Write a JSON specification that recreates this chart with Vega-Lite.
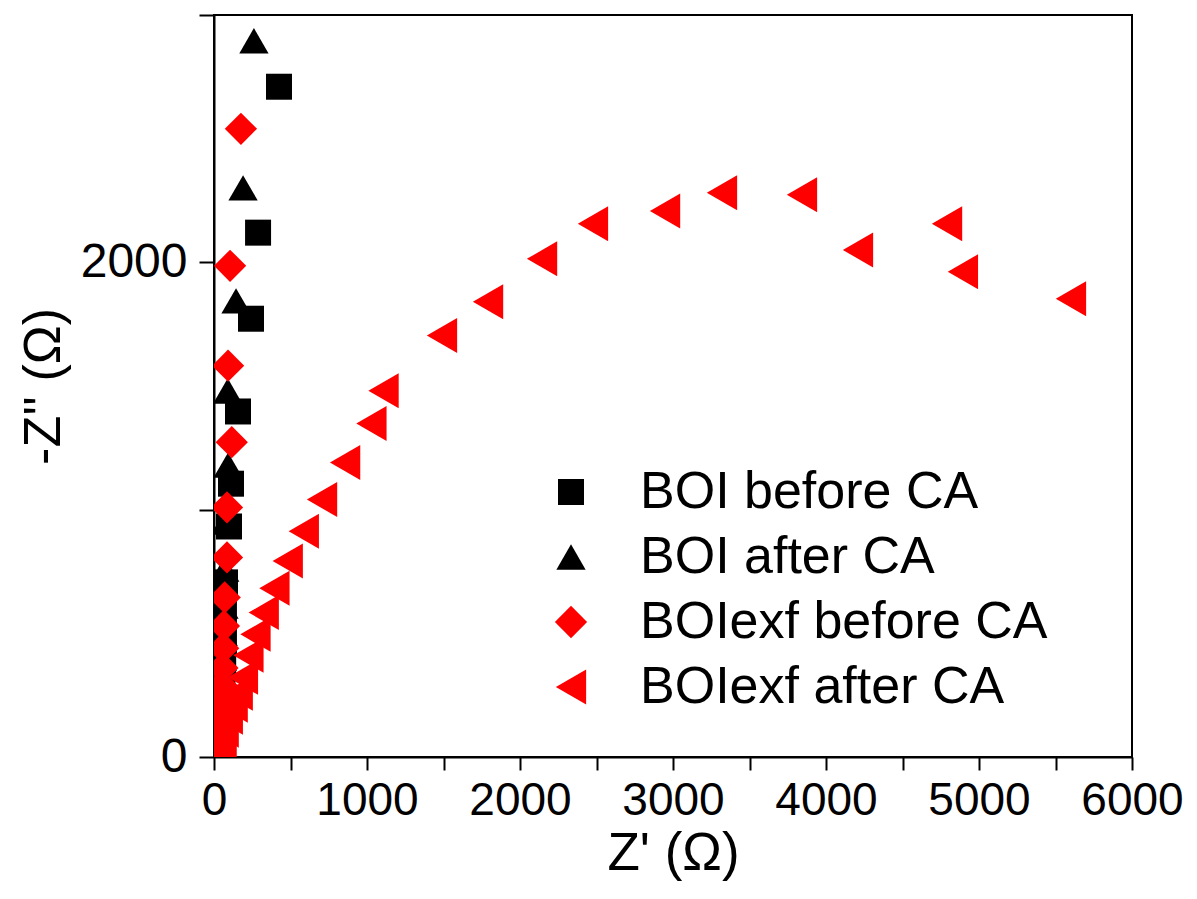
{
  "$schema": "https://vega.github.io/schema/vega-lite/v6.json",
  "autosize": {"type": "none"},
  "width": 918,
  "height": 742,
  "padding": {"left": 214, "top": 15, "right": 65, "bottom": 142},
  "background": "white",
  "config": {
    "view": {"stroke": "#000000", "strokeWidth": 2},
    "font": "Liberation Sans",
    "axis": {"grid": false, "domainColor": "#000000", "domainWidth": 2, "tickColor": "#000000", "tickWidth": 2, "labelColor": "#000000", "titleColor": "#000000", "labelFont": "Liberation Sans", "titleFont": "Liberation Sans", "titleFontWeight": "normal", "labelOverlap": false, "labelFlush": false}
  },
  "data": {
    "values": [
      {"series": "BOI before CA", "zr": 425, "zi": 2710},
      {"series": "BOI before CA", "zr": 288, "zi": 2120},
      {"series": "BOI before CA", "zr": 242, "zi": 1772},
      {"series": "BOI before CA", "zr": 157, "zi": 1397},
      {"series": "BOI before CA", "zr": 111, "zi": 1105},
      {"series": "BOI before CA", "zr": 98, "zi": 932},
      {"series": "BOI before CA", "zr": 72, "zi": 706},
      {"series": "BOI before CA", "zr": 65, "zi": 584},
      {"series": "BOI before CA", "zr": 65, "zi": 467},
      {"series": "BOI before CA", "zr": 60, "zi": 390},
      {"series": "BOI before CA", "zr": 55, "zi": 320},
      {"series": "BOI before CA", "zr": 50, "zi": 250},
      {"series": "BOI before CA", "zr": 45, "zi": 190},
      {"series": "BOI before CA", "zr": 40, "zi": 130},
      {"series": "BOI before CA", "zr": 35, "zi": 80},
      {"series": "BOI before CA", "zr": 30, "zi": 40},
      {"series": "BOI after CA", "zr": 261, "zi": 2896},
      {"series": "BOI after CA", "zr": 190, "zi": 2301},
      {"series": "BOI after CA", "zr": 144, "zi": 1844},
      {"series": "BOI after CA", "zr": 90, "zi": 1480},
      {"series": "BOI after CA", "zr": 92, "zi": 1180},
      {"series": "BOI after CA", "zr": 75, "zi": 950},
      {"series": "BOI after CA", "zr": 70, "zi": 760},
      {"series": "BOI after CA", "zr": 65, "zi": 610},
      {"series": "BOI after CA", "zr": 60, "zi": 500},
      {"series": "BOI after CA", "zr": 55, "zi": 400},
      {"series": "BOI after CA", "zr": 50, "zi": 310},
      {"series": "BOI after CA", "zr": 45, "zi": 230},
      {"series": "BOI after CA", "zr": 40, "zi": 160},
      {"series": "BOI after CA", "zr": 35, "zi": 100},
      {"series": "BOI after CA", "zr": 30, "zi": 50},
      {"series": "BOIexf before CA", "zr": 176, "zi": 2540},
      {"series": "BOIexf before CA", "zr": 105, "zi": 1986},
      {"series": "BOIexf before CA", "zr": 92, "zi": 1582},
      {"series": "BOIexf before CA", "zr": 116, "zi": 1273},
      {"series": "BOIexf before CA", "zr": 85, "zi": 1009},
      {"series": "BOIexf before CA", "zr": 85, "zi": 807},
      {"series": "BOIexf before CA", "zr": 70, "zi": 645},
      {"series": "BOIexf before CA", "zr": 65, "zi": 530},
      {"series": "BOIexf before CA", "zr": 60, "zi": 440},
      {"series": "BOIexf before CA", "zr": 55, "zi": 360},
      {"series": "BOIexf before CA", "zr": 50, "zi": 290},
      {"series": "BOIexf before CA", "zr": 45, "zi": 220},
      {"series": "BOIexf before CA", "zr": 40, "zi": 160},
      {"series": "BOIexf before CA", "zr": 35, "zi": 100},
      {"series": "BOIexf before CA", "zr": 30, "zi": 50},
      {"series": "BOIexf after CA", "zr": 5601, "zi": 1853},
      {"series": "BOIexf after CA", "zr": 4895, "zi": 1962},
      {"series": "BOIexf after CA", "zr": 4791, "zi": 2156},
      {"series": "BOIexf after CA", "zr": 4209, "zi": 2050},
      {"series": "BOIexf after CA", "zr": 3843, "zi": 2273},
      {"series": "BOIexf after CA", "zr": 3320, "zi": 2281},
      {"series": "BOIexf after CA", "zr": 2948, "zi": 2208},
      {"series": "BOIexf after CA", "zr": 2477, "zi": 2156},
      {"series": "BOIexf after CA", "zr": 2144, "zi": 2014},
      {"series": "BOIexf after CA", "zr": 1791, "zi": 1841},
      {"series": "BOIexf after CA", "zr": 1490, "zi": 1704},
      {"series": "BOIexf after CA", "zr": 1108, "zi": 1481},
      {"series": "BOIexf after CA", "zr": 1029, "zi": 1348},
      {"series": "BOIexf after CA", "zr": 857, "zi": 1191},
      {"series": "BOIexf after CA", "zr": 706, "zi": 1041},
      {"series": "BOIexf after CA", "zr": 587, "zi": 913},
      {"series": "BOIexf after CA", "zr": 482, "zi": 792},
      {"series": "BOIexf after CA", "zr": 395, "zi": 682},
      {"series": "BOIexf after CA", "zr": 325, "zi": 584},
      {"series": "BOIexf after CA", "zr": 271, "zi": 496},
      {"series": "BOIexf after CA", "zr": 225, "zi": 411},
      {"series": "BOIexf after CA", "zr": 189, "zi": 322},
      {"series": "BOIexf after CA", "zr": 155, "zi": 258},
      {"series": "BOIexf after CA", "zr": 122, "zi": 209},
      {"series": "BOIexf after CA", "zr": 90, "zi": 161},
      {"series": "BOIexf after CA", "zr": 63, "zi": 108},
      {"series": "BOIexf after CA", "zr": 48, "zi": 55},
      {"series": "BOIexf after CA", "zr": 48, "zi": 15}
    ]
  },
  "mark": {"type": "point", "filled": true, "opacity": 1, "clip": true},
  "encoding": {
    "x": {
      "field": "zr", "type": "quantitative",
      "scale": {"domain": [0, 6000], "nice": false},
      "axis": {
        "title": "Z' (Ω)", "titleFontSize": 53, "titlePadding": 4,
        "values": [0, 500, 1000, 1500, 2000, 2500, 3000, 3500, 4000, 4500, 5000, 5500, 6000],
        "format": "d",
        "labelExpr": "datum.value % 1000 === 0 ? datum.label : ''",
        "labelFontSize": 46, "labelPadding": 8, "tickSize": 13,
        "encode": {"ticks": {"update": {"y2": {"signal": "datum.value % 1000 === 0 ? 13 : 7"}}}}
      }
    },
    "y": {
      "field": "zi", "type": "quantitative",
      "scale": {"domain": [0, 3000], "nice": false},
      "axis": {
        "title": "-Z'' (Ω)", "titleFontSize": 52, "titlePadding": 10,
        "values": [0, 1000, 2000, 3000],
        "format": "d",
        "labelExpr": "datum.value % 2000 === 0 ? datum.label : ''",
        "labelFontSize": 48, "labelPadding": 12, "tickSize": 15,
        "encode": {"ticks": {"update": {"x2": {"signal": "datum.value % 2000 === 0 ? -15 : -7"}}}}
      }
    },
    "shape": {
      "field": "series", "type": "nominal", "title": null,
      "scale": {"domain": ["BOI before CA", "BOI after CA", "BOIexf before CA", "BOIexf after CA"], "range": ["square", "triangle-up", "diamond", "triangle-left"]},
      "legend": {"orient": "none", "legendX": 331, "legendY": 451, "labelFontSize": 52, "labelFont": "Liberation Sans", "labelColor": "#000000", "labelOffset": 43, "rowPadding": 13, "labelLimit": 600}
    },
    "color": {
      "field": "series", "type": "nominal", "title": null,
      "scale": {"domain": ["BOI before CA", "BOI after CA", "BOIexf before CA", "BOIexf after CA"], "range": ["#000000", "#000000", "#ff0000", "#ff0000"]}
    },
    "size": {
      "field": "series", "type": "nominal", "title": null,
      "scale": {"domain": ["BOI before CA", "BOI after CA", "BOIexf before CA", "BOIexf after CA"], "range": [676, 1225, 1444, 1296]}
    }
  }
}
